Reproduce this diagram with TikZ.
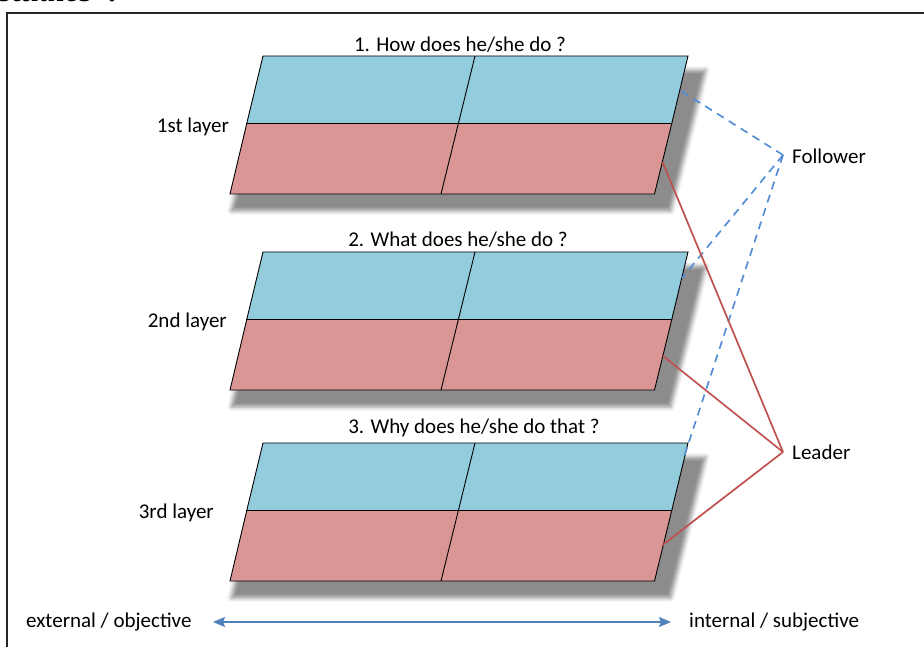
\documentclass[tikz,border=0pt]{standalone}
\usepackage{fontspec}
\setmainfont{Carlito}
\newfontfamily\docserif{Liberation Serif}
\usetikzlibrary{shadows.blur,arrows.meta}

\definecolor{toprow}{RGB}{147,204,221}
\definecolor{botrow}{RGB}{217,150,148}
\definecolor{leadred}{RGB}{192,80,77}
\definecolor{follblue}{RGB}{85,142,213}
\definecolor{axisblue}{RGB}{79,129,189}

\tikzset{
  txt/.style={font=\fontsize{21}{24}\selectfont, inner sep=0pt, text=black},
  cellbox/.style={draw=black, line width=0.9pt},
  topcell/.style={cellbox, fill=toprow},
  botcell/.style={cellbox, fill=botrow},
  layershadow/.style={blur shadow={shadow xshift=0pt, shadow yshift=0pt,
      shadow blur radius=4pt, shadow opacity=45}},
  leadline/.style={draw=leadred, line width=1.7pt},
  follline/.style={draw=follblue, line width=1.7pt, dash pattern=on 8pt off 6pt},
  axisline/.style={draw=axisblue, line width=1.8pt,
      {Stealth[length=12pt,width=10pt,inset=2pt]}-{Stealth[length=12pt,width=10pt,inset=2pt]}},
}

% one layer: a sheared two-by-two grid with a soft drop shadow
\newcommand\drawlayer[1]{%
  \begin{scope}[shift={(0,#1)}]
    \path[layershadow] (265,14) -- (706,14) -- (671,155) -- (231,155) -- cycle;
    \draw[topcell] (263,0) -- (688,0) -- (671.75,67.5) -- (246.75,67.5) -- cycle;
    \draw[botcell] (246.75,67.5) -- (671.75,67.5) -- (654.5,138) -- (230,138) -- cycle;
    \draw[cellbox] (475,0) -- (441,138);
  \end{scope}}

\begin{document}
\begin{tikzpicture}[x=1pt,y=-1pt]
  \clip (0,0) rectangle (924,647);
  \useasboundingbox (0,0) rectangle (924,647);

  % running text above the frame
  \node[anchor=base west, inner sep=0pt, font=\docserif\bfseries\itshape\fontsize{33}{36}\selectfont]
    (caption) at (-1,2) {studies”.};

  % frame
  \draw[line width=1.3pt, draw=black!85] (7,660) -- (7,13) -- (940,13);

  \drawlayer{56}
  \drawlayer{252}
  \drawlayer{443}

  % titles and layer labels
  \node[txt] (t1) at (460,45) {1. How does he/she do ?};
  \node[txt] (t2) at (458,240) {2. What does he/she do ?};
  \node[txt] (t3) at (474,428) {3. Why does he/she do that ?};
  \node[txt, anchor=east] (lab1) at (229,127) {1st layer};
  \node[txt, anchor=east] (lab2) at (227,322) {2nd layer};
  \node[txt, anchor=east] (lab3) at (214,513) {3rd layer};

  % role labels and the points where their lines meet
  \coordinate (fv) at (783,155);
  \coordinate (lv) at (783,452);
  \node[txt, anchor=west] (follower) at (792,156) {Follower};
  \node[txt, anchor=west] (leader) at (792,452) {Leader};

  % line ends on the right edges of the layers
  \coordinate (f1) at (679.5,90);
  \coordinate (f2) at (682,278);
  \coordinate (f3) at (684,457);
  \coordinate (r1) at (662.5,162);
  \coordinate (r2) at (663,356);
  \coordinate (r3) at (662.5,545);

  \draw[follline] (fv) -- (f1);
  \draw[follline] (fv) -- (f2);
  \draw[follline] (fv) -- (f3);
  \draw[leadline] (lv) -- (r1);
  \draw[leadline] (lv) -- (r2);
  \draw[leadline] (lv) -- (r3);

  % horizontal axis
  \node[txt, anchor=west] (ext) at (26,622) {external / objective};
  \node[txt, anchor=west] (int) at (689,622) {internal / subjective};
  \coordinate (axl) at (213,622);
  \coordinate (axr) at (671,622);
  \draw[axisline] (axl) -- (axr);
\end{tikzpicture}
\end{document}
